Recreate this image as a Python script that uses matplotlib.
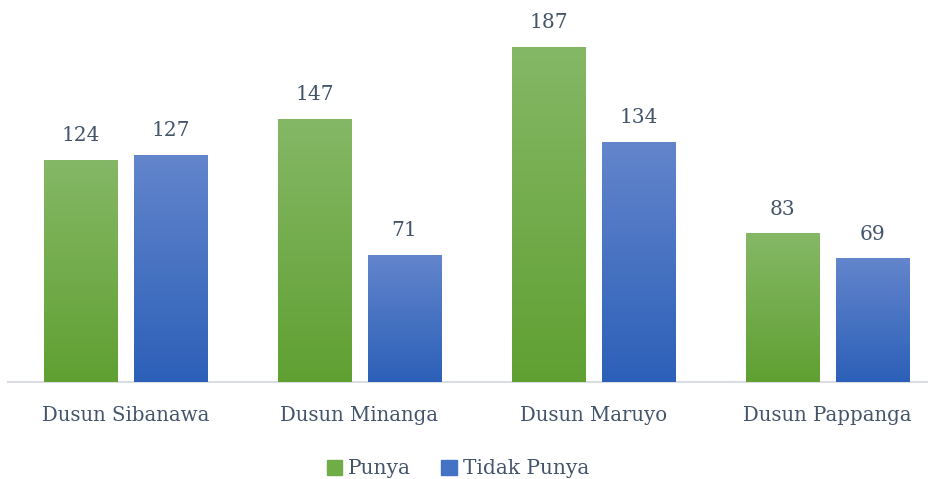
import numpy as np
import matplotlib.pyplot as plt
from matplotlib.colors import LinearSegmentedColormap
from matplotlib.patches import Patch

categories = ['Dusun Sibanawa', 'Dusun Minanga', 'Dusun Maruyo', 'Dusun Pappanga']
punya = [124, 147, 187, 83]
tidak_punya = [127, 71, 134, 69]

text_color = '#44546a'
plt.rcParams['font.family'] = ['DejaVu Serif']

fig = plt.figure(figsize=(9.29, 4.79), dpi=100)
ax = fig.add_axes([8 / 929, 97 / 479, 921 / 929, 382 / 479])

x = np.arange(len(categories))
width = 0.312
off = 0.1923

green = LinearSegmentedColormap.from_list('g', ['#60a032', '#85b866'])
blue = LinearSegmentedColormap.from_list('b', ['#2c60b8', '#6385cc'])
grad = np.linspace(0, 1, 256).reshape(-1, 1)

for vals, dx, cmap, face in [(punya, -off, green, '#70ad47'), (tidak_punya, off, blue, '#4472c4')]:
    bars = ax.bar(x + dx, vals, width, color=face, zorder=2)
    for b, v in zip(bars, vals):
        im = ax.imshow(grad, cmap=cmap, origin='lower', aspect='auto',
                       extent=[b.get_x(), b.get_x() + b.get_width(), 0, v], zorder=3)
        im.set_clip_path(b)
        ax.text(b.get_x() + b.get_width() / 2, v + 13.5, str(v), ha='center', va='center',
                fontsize=14.5, color=text_color)

ax.set_xlim(-0.502, 3.434)
ax.set_ylim(0, 213.3)
for s in ['top', 'right', 'left']:
    ax.spines[s].set_visible(False)
ax.spines['bottom'].set_color('#d9dde3')
ax.spines['bottom'].set_linewidth(1.5)
ax.set_yticks([])
ax.set_xticks(x)
ax.set_xticklabels(categories, fontsize=14.2, color=text_color)
ax.tick_params(axis='x', length=0, pad=17)

handles = [Patch(color='#70ad47', label='Punya'), Patch(color='#4472c4', label='Tidak Punya')]
fig.legend(handles=handles, loc='center', bbox_to_anchor=(0.493, 10 / 479), ncol=2, frameon=False,
           fontsize=14.5, labelcolor=text_color, handlelength=0.75, handleheight=0.75,
           handletextpad=0.3, columnspacing=1.5)

fig.savefig('out.png', dpi=100)
